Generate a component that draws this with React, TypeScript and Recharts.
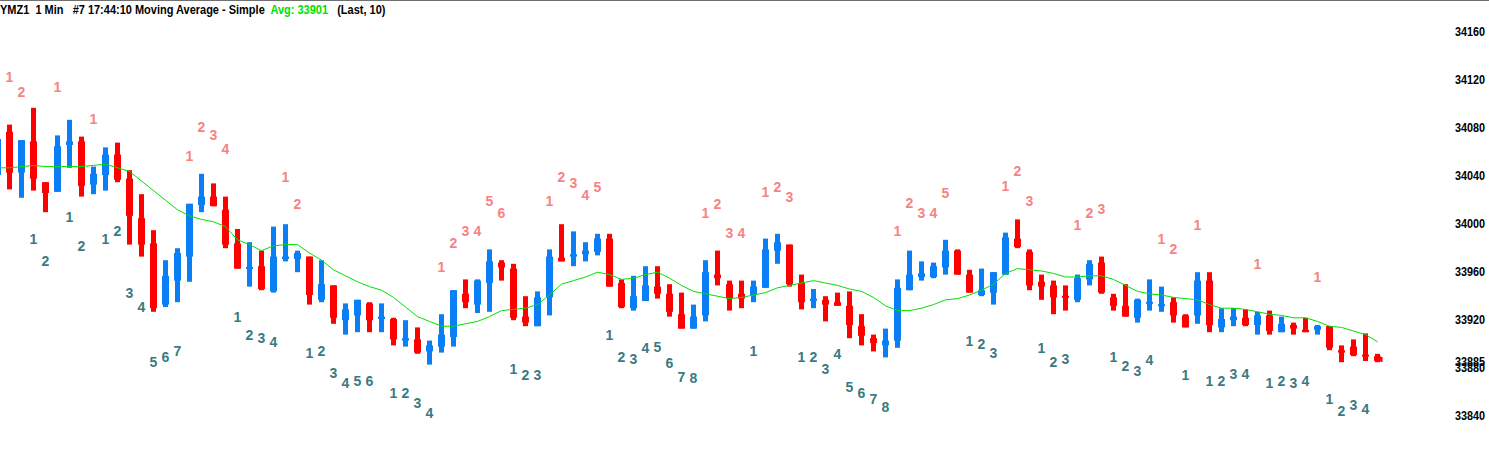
import React from "react"
import { ComposedChart, Bar, Line, Scatter, XAxis, YAxis, ReferenceLine } from "recharts"

// 1 minute bars, index 0 is the partly hidden bar on the left edge
const opens = [
  34040, 34076, 34042, 34068, 34034, 34026, 34065, 34068, 34032, 34040, 34057, 34037, 34004, 33983, 33932, 33952,
  33972, 34015, 34022, 34011, 33983, 33962, 33964, 33943, 33970, 33970, 33972, 33936, 33948, 33919, 33923, 33933,
  33920, 33920, 33902, 33903, 33893, 33897, 33905, 33941, 33932, 33950, 33967, 33962, 33922, 33914, 33938, 33971,
  33972, 33974, 33976, 33987, 33950, 33929, 33935, 33947, 33941, 33924, 33912, 33923, 33957, 33949, 33941, 33940,
  33946, 33977, 33982, 33950, 33935, 33936, 33934, 33931, 33914, 33904, 33898, 33902, 33944, 33955, 33955, 33963,
  33977, 33957, 33940, 33942, 33957, 33987, 33976, 33951, 33948, 33939, 33936, 33953, 33967, 33938, 33931, 33921,
  33933, 33931, 33934, 33923, 33923, 33952, 33913, 33919, 33921, 33915, 33923, 33909, 33915, 33911, 33911, 33914,
  33894, 33897, 33890, 33889,
]
const highs = [
  34075, 34082, 34069, 34096, 34034, 34073, 34086, 34072, 34047, 34063, 34067, 34044, 34024, 33994, 33969, 33979,
  34016, 34041, 34033, 34022, 33995, 33984, 33977, 33997, 33999, 33977, 33972, 33969, 33948, 33933, 33936, 33934,
  33933, 33921, 33919, 33913, 33902, 33924, 33944, 33953, 33953, 33978, 33969, 33966, 33939, 33943, 33978, 33999,
  33993, 33984, 33991, 33991, 33953, 33956, 33964, 33964, 33949, 33942, 33932, 33969, 33977, 33952, 33952, 33952,
  33987, 33991, 33982, 33957, 33945, 33939, 33942, 33943, 33924, 33907, 33912, 33953, 33977, 33968, 33967, 33986,
  33978, 33961, 33962, 33959, 33992, 34003, 33978, 33957, 33952, 33948, 33957, 33969, 33972, 33941, 33949, 33937,
  33953, 33947, 33938, 33924, 33959, 33959, 33929, 33929, 33928, 33926, 33927, 33922, 33917, 33921, 33915, 33914,
  33898, 33903, 33908, 33891,
]
const lows = [
  34036, 34028, 34021, 34027, 34009, 34026, 34046, 34022, 34024, 34027, 34034, 33982, 33972, 33926, 33930, 33934,
  33951, 34009, 34014, 33979, 33962, 33947, 33944, 33942, 33968, 33959, 33932, 33934, 33916, 33907, 33909, 33909,
  33909, 33898, 33897, 33891, 33882, 33892, 33897, 33929, 33925, 33926, 33952, 33919, 33914, 33914, 33923, 33968,
  33964, 33968, 33973, 33947, 33929, 33927, 33935, 33937, 33922, 33912, 33912, 33918, 33948, 33927, 33929, 33934,
  33946, 33966, 33947, 33928, 33929, 33918, 33931, 33904, 33898, 33893, 33888, 33896, 33944, 33952, 33954, 33957,
  33957, 33942, 33939, 33932, 33957, 33979, 33944, 33936, 33924, 33927, 33934, 33948, 33941, 33927, 33922, 33917,
  33927, 33926, 33917, 33913, 33916, 33909, 33909, 33914, 33914, 33907, 33907, 33909, 33907, 33909, 33907, 33894,
  33884, 33889, 33885, 33884,
]
const closes = [
  34070, 34042, 34069, 34037, 34025, 34064, 34068, 34031, 34041, 34057, 34036, 34006, 33982, 33929, 33956, 33975,
  34016, 34022, 34014, 33982, 33962, 33963, 33945, 33972, 33972, 33975, 33940, 33949, 33921, 33928, 33936, 33919,
  33922, 33903, 33904, 33892, 33898, 33907, 33944, 33934, 33952, 33968, 33963, 33921, 33917, 33938, 33972, 33968,
  33974, 33977, 33987, 33947, 33930, 33939, 33948, 33941, 33926, 33912, 33922, 33959, 33954, 33937, 33937, 33947,
  33978, 33984, 33949, 33934, 33937, 33932, 33931, 33915, 33906, 33900, 33902, 33946, 33957, 33958, 33964, 33977,
  33957, 33942, 33944, 33959, 33988, 33980, 33948, 33947, 33938, 33938, 33954, 33966, 33942, 33931, 33922, 33936,
  33934, 33932, 33923, 33913, 33952, 33915, 33920, 33922, 33915, 33923, 33910, 33916, 33912, 33909, 33914, 33896,
  33892, 33890, 33889, 33885,
]
// simple moving average (last 10)
const sma10 = [
  34046, 34046, 34047, 34048, 34047, 34047, 34047, 34047, 34048, 34049, 34046, 34043, 34035, 34027, 34019, 34011,
  34006, 34003, 34001, 33997, 33986, 33982, 33977, 33981, 33982, 33982, 33975, 33969, 33961, 33956, 33951, 33947,
  33944, 33938, 33930, 33922, 33918, 33914, 33914, 33916, 33918, 33922, 33927, 33928, 33929, 33932, 33940, 33949,
  33952, 33955, 33959, 33957, 33953, 33954, 33957, 33959, 33954, 33948, 33943, 33941, 33939, 33937, 33938, 33940,
  33942, 33946, 33948, 33950, 33952, 33950, 33948, 33945, 33943, 33938, 33931, 33927, 33927, 33929, 33932, 33936,
  33937, 33940, 33944, 33949, 33958, 33962, 33961, 33960, 33958, 33955, 33955, 33956, 33956, 33953, 33948, 33943,
  33941, 33940, 33938, 33937, 33936, 33932, 33929, 33929, 33928, 33926, 33924, 33923, 33921, 33921, 33918, 33914,
  33913, 33910, 33907, 33901,
]

// swing counts: [bar, text, price]
const highCounts: [number, string, number][] = [
  [1, "1", 34122], [2, "2", 34109], [5, "1", 34113], [8, "1", 34087], [16, "1", 34056], [17, "2", 34080],
  [18, "3", 34073], [19, "4", 34062], [24, "1", 34038], [25, "2", 34016], [37, "1", 33963], [38, "2", 33983],
  [39, "3", 33993], [40, "4", 33993], [41, "5", 34018], [42, "6", 34008], [46, "1", 34018], [47, "2", 34038],
  [48, "3", 34033], [49, "4", 34023], [50, "5", 34030], [59, "1", 34008], [60, "2", 34016], [61, "3", 33992],
  [62, "4", 33992], [64, "1", 34026], [65, "2", 34030], [66, "3", 34022], [75, "1", 33993], [76, "2", 34017],
  [77, "3", 34008], [78, "4", 34008], [79, "5", 34025], [84, "1", 34031], [85, "2", 34043], [86, "3", 34018],
  [90, "1", 33998], [91, "2", 34008], [92, "3", 34012], [97, "1", 33987], [98, "2", 33978], [100, "1", 33998],
  [105, "1", 33966], [110, "1", 33955],
]
const lowCounts: [number, string, number][] = [
  [3, "1", 33987], [4, "2", 33968], [6, "1", 34005], [7, "2", 33981], [9, "1", 33987], [10, "2", 33993],
  [11, "3", 33942], [12, "4", 33930], [13, "5", 33884], [14, "6", 33888], [15, "7", 33893], [20, "1", 33922],
  [21, "2", 33907], [22, "3", 33904], [23, "4", 33901], [26, "1", 33892], [27, "2", 33893], [28, "3", 33875],
  [29, "4", 33867], [30, "5", 33868], [31, "6", 33868], [33, "1", 33858], [34, "2", 33858], [35, "3", 33850],
  [36, "4", 33842], [43, "1", 33878], [44, "2", 33873], [45, "3", 33873], [51, "1", 33907], [52, "2", 33888],
  [53, "3", 33887], [54, "4", 33896], [55, "5", 33897], [56, "6", 33883], [57, "7", 33872], [58, "8", 33871],
  [63, "1", 33893], [67, "1", 33888], [68, "2", 33888], [69, "3", 33878], [70, "4", 33891], [71, "5", 33863],
  [72, "6", 33858], [73, "7", 33853], [74, "8", 33847], [81, "1", 33902], [82, "2", 33899], [83, "3", 33892],
  [87, "1", 33896], [88, "2", 33884], [89, "3", 33887], [93, "1", 33888], [94, "2", 33881], [95, "3", 33877],
  [96, "4", 33886], [99, "1", 33873], [101, "1", 33868], [102, "2", 33868], [103, "3", 33874], [104, "4", 33874],
  [106, "1", 33867], [107, "2", 33868], [108, "3", 33867], [109, "4", 33868], [111, "1", 33853], [112, "2", 33843],
  [113, "3", 33848], [114, "4", 33845],
]

const priceTicks = [33840, 33880, 33920, 33960, 34000, 34040, 34080, 34120, 34160]

const BLUE = "#0a7ff5"
const RED = "#ff0000"
const FONT = '"Liberation Sans", Arial, sans-serif'

const bars = opens.map((open, i) => ({
  i,
  open,
  high: highs[i],
  low: lows[i],
  close: closes[i],
  range: [lows[i], highs[i]],
  ma: sma10[i],
  last: i === opens.length - 1,
}))

const toPoints = (rows: [number, string, number][]) => rows.map(([i, t, v]) => ({ i, t, v }))
const lastClose = closes[closes.length - 1]

function Candle(props: any) {
  const { x, y, width, height, payload } = props
  const { open, close, high, low } = payload
  const cx = Math.round(x + width / 2) + 0.5
  const span = high - low || 1
  const py = (v: number) => y + ((high - v) / span) * height
  const color = close >= open ? BLUE : RED
  const top = py(Math.max(open, close))
  const bot = py(Math.min(open, close))
  const bodyH = Math.max(bot - top, 2)
  return (
    <g>
      <rect x={cx - 2.5} y={y} width={5} height={Math.max(height, 1)} fill={color} />
      <rect x={cx - 3.5} y={top - (bodyH - (bot - top)) / 2} width={7} height={bodyH} fill={color} />
      {payload.last && <rect x={cx + 3} y={py(close) - 4} width={2} height={5} fill={RED} />}
    </g>
  )
}

const countLabel = (color: string) => (props: any) => (
  <text x={props.cx} y={props.cy} dy={5} textAnchor="middle" fill={color} fontSize={14} fontWeight="bold" fontFamily={FONT}>
    {props.payload.t}
  </text>
)

// condensed bold price text, like the platform's narrow font
const PriceText = ({ y, value }: { y: number; value: number }) => (
  <text
    x={1455}
    y={y}
    dy={4.5}
    fill="#000"
    fontSize={13}
    fontWeight="bold"
    fontFamily={FONT}
    textLength={30}
    lengthAdjust="spacingAndGlyphs"
  >
    {value}
  </text>
)

function PriceTick(props: any) {
  return <PriceText y={props.y} value={props.payload.value} />
}

function LastPrice(props: any) {
  const y = props.viewBox.y
  return (
    <g>
      <rect x={1450} y={y - 8} width={39} height={12} fill="#fff" />
      <PriceText y={y} value={lastClose} />
    </g>
  )
}

export default function App() {
  return (
    <div style={{ position: "absolute", left: 0, top: 0, width: 1489, height: 457, background: "#fff" }}>
      <div style={{ position: "absolute", left: 0, top: 0, width: 1489, height: 1, background: "#707070" }} />
      <div
        style={{
          position: "absolute",
          left: 0,
          top: 2,
          whiteSpace: "pre",
          fontFamily: FONT,
          fontWeight: "bold",
          fontSize: 13,
          lineHeight: "16px",
          color: "#000",
          zIndex: 2,
          transform: "scaleX(0.845)",
          transformOrigin: "0 0",
        }}
      >
        {"YMZ1  1 Min   #7 17:44:10 Moving Average - Simple  "}
        <span style={{ color: "#00e000" }}>Avg: 33901</span>
        {"   (Last, 10)"}
      </div>
      <ComposedChart width={1489} height={457} data={bars} margin={{ top: 7, right: 0, bottom: 18, left: 0 }}>
        <XAxis type="number" dataKey="i" domain={[0.2083, 120.2083]} allowDataOverflow hide />
        <YAxis
          orientation="right"
          type="number"
          domain={[33820, 34180]}
          ticks={priceTicks}
          interval={0}
          width={49}
          axisLine={false}
          tickLine={false}
          tick={<PriceTick />}
          allowDataOverflow
        />
        <Bar dataKey="range" barSize={7} shape={<Candle />} isAnimationActive={false} />
        <Line
          dataKey="ma"
          type="linear"
          stroke="#00e000"
          strokeWidth={1}
          dot={false}
          activeDot={false}
          isAnimationActive={false}
        />
        <Scatter data={toPoints(highCounts)} dataKey="v" shape={countLabel("#f58383")} isAnimationActive={false} />
        <Scatter data={toPoints(lowCounts)} dataKey="v" shape={countLabel("#3a7a80")} isAnimationActive={false} />
        <ReferenceLine y={lastClose} stroke="none" label={<LastPrice />} />
      </ComposedChart>
    </div>
  )
}
